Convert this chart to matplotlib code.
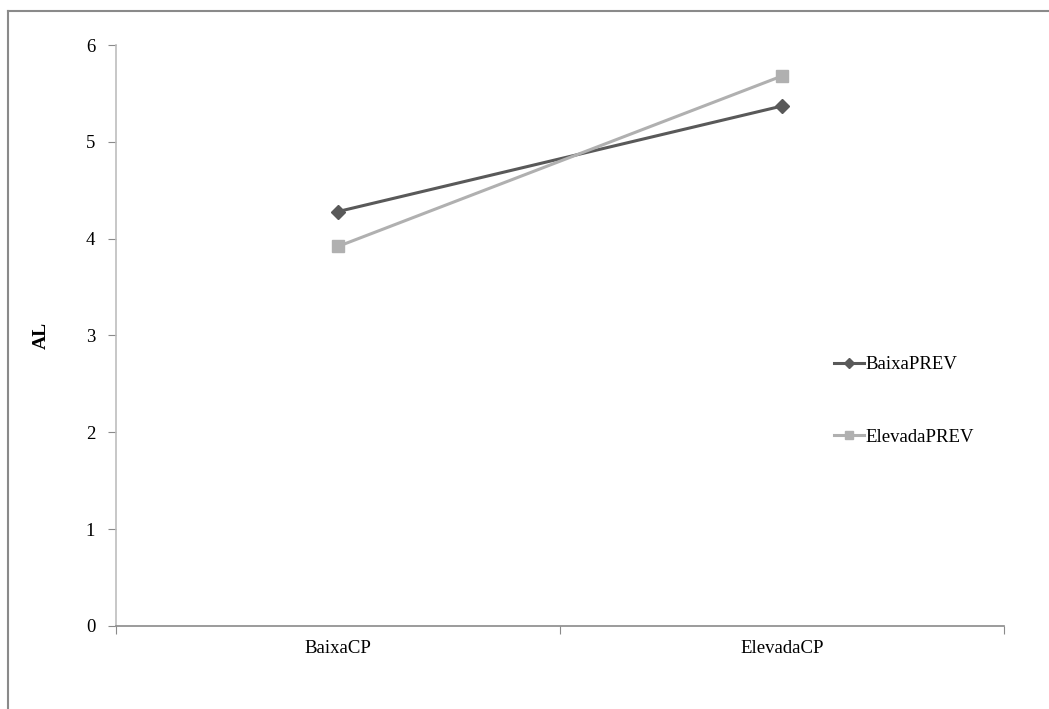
import matplotlib
matplotlib.use("Agg")
import matplotlib.pyplot as plt
from matplotlib.lines import Line2D

categories = ["BaixaCP", "ElevadaCP"]
baixa_prev = [4.28, 5.37]
elevada_prev = [3.92, 5.68]
y_ticks = [0, 1, 2, 3, 4, 5, 6]

plt.rcParams['font.family'] = ['Liberation Serif', 'DejaVu Serif']

fig = plt.figure(figsize=(10.49, 7.09), dpi=100)
ax = fig.add_axes([0.1106, 0.1171, 0.8465, 0.8194])

# outer frame (only top/left visible in the original crop)
fig.add_artist(Line2D([8 / 1049, 8 / 1049], [0, 1 - 11 / 709], transform=fig.transFigure,
                      color='#8a8a8a', lw=1.5))
fig.add_artist(Line2D([8 / 1049, 1], [1 - 11 / 709, 1 - 11 / 709], transform=fig.transFigure,
                      color='#8a8a8a', lw=1.5))

x = list(range(len(categories)))
ax.plot(x, baixa_prev, color='#595959', lw=2.2, marker='D', markersize=7, label='BaixaPREV')
ax.plot(x, elevada_prev, color='#b0b0b0', lw=2.2, marker='s', markersize=8, label='ElevadaPREV')

ax.set_xlim(-0.5, 1.5)
ax.set_ylim(0, 6)
ax.set_yticks(y_ticks)
ax.set_xticks([-0.5, 0.5, 1.5])
ax.set_xticklabels([])
ax.set_xticks(x, minor=True)
ax.set_xticklabels(categories, minor=True)
ax.tick_params(axis='x', which='major', length=6, color='#8a8a8a', direction='out')
ax.tick_params(axis='x', which='minor', length=0, pad=10, labelsize=13.5)
ax.tick_params(axis='y', length=6, color='#8a8a8a', direction='out', pad=9, labelsize=13.5)

for side in ['top', 'right']:
    ax.spines[side].set_visible(False)
ax.spines['left'].set_color('#bdbdbd')
ax.spines['bottom'].set_color('#8a8a8a')
ax.spines['left'].set_linewidth(1.2)
ax.spines['bottom'].set_linewidth(1.2)

ax.set_ylabel('AL', fontweight='bold', fontsize=14)
ax.yaxis.set_label_coords(-0.074, 0.5)

leg = ax.legend(loc='center left', bbox_to_anchor=(0.79, 0.387), frameon=False,
                fontsize=13.5, labelspacing=2.95, handlelength=1.6, handletextpad=0.05,
                markerscale=0.7)

fig.savefig('out.png', dpi=100)
